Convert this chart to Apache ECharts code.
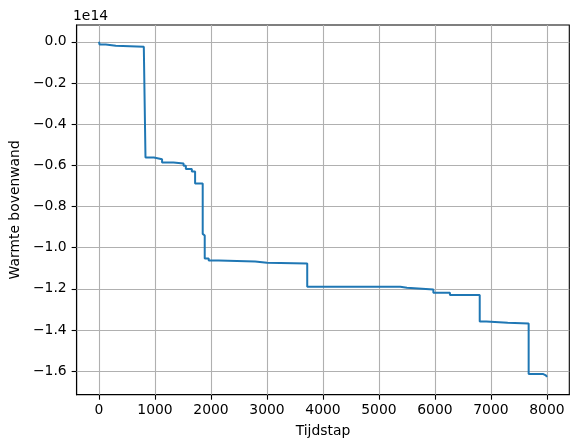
<!DOCTYPE html>
<html>
<head>
<meta charset="utf-8">
<script src="https://cdn.jsdelivr.net/npm/echarts@6/dist/echarts.min.js"></script>
<style>html,body{margin:0;padding:0;background:#fff}#c{width:579px;height:448px}</style>
</head>
<body>
<div id="c"></div>
<script>
// Step levels: time step where a new level starts, and the level (units of 1e14)
const stepTimes = [0, 10, 120, 300, 800, 830, 980, 1126, 1330, 1510, 1551, 1658, 1716, 1852, 1870, 1888, 1959, 2137, 2788, 3000, 3719, 5381, 5500, 5972, 6268, 6800, 6918, 7300, 7674, 7935, 7982, 8000];
const stepLevels = [0, -0.013, -0.019, -0.024, -0.026, -0.562, -0.570, -0.586, -0.591, -0.602, -0.618, -0.630, -0.688, -0.933, -0.941, -1.052, -1.062, -1.067, -1.073, -1.077, -1.190, -1.195, -1.203, -1.219, -1.230, -1.358, -1.364, -1.368, -1.614, -1.620, -1.628, -1.630];
const xTicks = [0, 1000, 2000, 3000, 4000, 5000, 6000, 7000, 8000];
const yTicks = [0.0, -0.2, -0.4, -0.6, -0.8, -1.0, -1.2, -1.4, -1.6];
const scaleLabel = '1e14';
const xName = 'Tijdstap';
const yName = 'Warmte bovenwand';

const data = stepTimes.map((t, i) => [t, stepLevels[i]]);
const font = 'DejaVu Sans';
const chart = echarts.init(document.getElementById('c'), null, {renderer: 'canvas'});
const fmt = v => {
  const s = Math.abs(v) < 1e-9 ? '0.0' : v.toFixed(1);
  return s.replace('-', '\u2212');
};
const gridColor = '#b0b0b0';
chart.setOption({
  animation: false,
  backgroundColor: '#fff',
  grid: {left: 73.3, right: 9.7, top: 25, bottom: 53.3, show: true, borderColor: '#000', borderWidth: 1.1, backgroundColor: 'transparent'},
  xAxis: {
    type: 'value', min: -400, max: 8400,
    name: xName, nameLocation: 'middle', nameGap: 30,
    nameTextStyle: {fontFamily: font, fontSize: 13.9, color: '#000'},
    axisLine: {show: true, onZero: false, lineStyle: {color: '#000', width: 1.1}},
    axisTick: {show: true, length: 5, customValues: xTicks, lineStyle: {color: '#000', width: 1.1}},
    axisLabel: {fontFamily: font, fontSize: 13.9, color: '#000', margin: 9, customValues: xTicks,
      formatter: v => String(v)},
    splitLine: {show: false}
  },
  yAxis: {
    type: 'value', min: -1.714, max: 0.0816,
    name: yName, nameLocation: 'middle', nameGap: 52, nameRotate: 90,
    nameTextStyle: {fontFamily: font, fontSize: 13.9, color: '#000'},
    axisLine: {show: true, onZero: false, lineStyle: {color: '#000', width: 1.1}},
    axisTick: {show: true, length: 5, customValues: yTicks, lineStyle: {color: '#000', width: 1.1}},
    axisLabel: {fontFamily: font, fontSize: 13.9, color: '#000', margin: 10, customValues: yTicks,
      formatter: v => fmt(v)},
    splitLine: {show: false}
  },
  graphic: [{
    type: 'text', left: 73, top: 9,
    style: {text: scaleLabel, font: '13.9px "DejaVu Sans"', fill: '#000'}
  }],
  series: [{
    type: 'line', data: data, step: 'end', showSymbol: false, z: 3,
    lineStyle: {color: '#1f77b4', width: 2}, itemStyle: {color: '#1f77b4'},
    markLine: {
      silent: true, symbol: 'none', label: {show: false}, animation: false,
      lineStyle: {color: gridColor, width: 1.1, type: 'solid'},
      data: xTicks.map(v => ({xAxis: v})).concat(yTicks.map(v => ({yAxis: v}))),
      z: 1
    }
  }]
});
</script>
</body>
</html>
